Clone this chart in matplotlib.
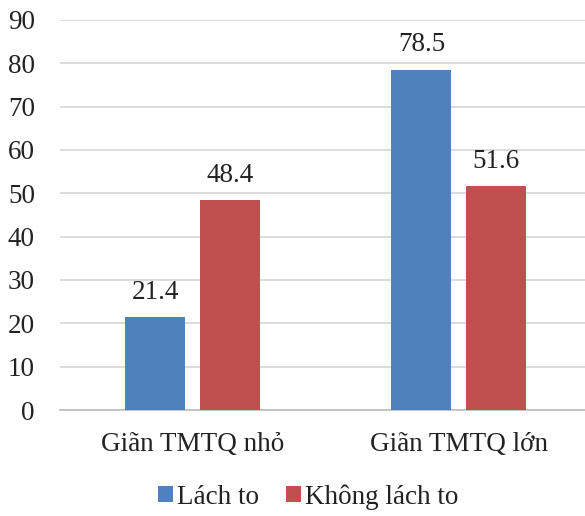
import numpy as np
import matplotlib
matplotlib.use("Agg")
import matplotlib.pyplot as plt

plt.rcParams["font.family"] = ["Liberation Serif", "DejaVu Serif"]

categories = ["Giãn TMTQ nhỏ", "Giãn TMTQ lớn"]
series_names = ["Lách to", "Không lách to"]
lach_to = [21.4, 78.5]
khong_lach_to = [48.4, 51.6]
colors = ["#4F81BD", "#C0504D"]

FS = 19.5

fig = plt.figure(figsize=(5.85, 5.16), dpi=100)
ax = fig.add_axes([60 / 585, 1 - 410 / 516, 525 / 585, 390 / 516])

x = np.arange(len(categories))
bw = 0.2256
off = 0.141

for vals, name, col, sgn in [(lach_to, series_names[0], colors[0], -1),
                             (khong_lach_to, series_names[1], colors[1], 1)]:
    bars = ax.bar(x + sgn * off, vals, width=bw, color=col, label=name, zorder=3)
    for b, v in zip(bars, vals):
        ax.annotate(f"{v:.1f}", (b.get_x() + b.get_width() / 2, v),
                    xytext=(0, 9), textcoords="offset points",
                    ha="center", va="bottom", fontsize=FS, color="#222222")

ax.set_xlim(-0.5, 1.474)
ax.set_ylim(0, 90)
ax.set_yticks(np.arange(0, 91, 10))
ax.set_xticks(x)
ax.set_xticklabels(categories)
ax.tick_params(axis="y", length=0, pad=18, labelsize=FS, labelcolor="#222222")
ax.tick_params(axis="x", length=0, pad=16, labelsize=FS, labelcolor="#222222")

ax.yaxis.grid(True, color="#D9D9D9", linewidth=1.3, zorder=0)
ax.set_axisbelow(True)
for s in ["top", "right", "left"]:
    ax.spines[s].set_visible(False)
ax.spines["bottom"].set_color("#BFBFBF")
ax.spines["bottom"].set_linewidth(1.3)

ax.legend(loc="center", bbox_to_anchor=(308 / 585, 1 - 497 / 516),
          bbox_transform=fig.transFigure, ncol=2, frameon=False,
          fontsize=FS, handlelength=0.55, handleheight=0.55,
          handletextpad=0.15, columnspacing=1.0, labelcolor="#222222")

fig.savefig("out.png", dpi=100)
